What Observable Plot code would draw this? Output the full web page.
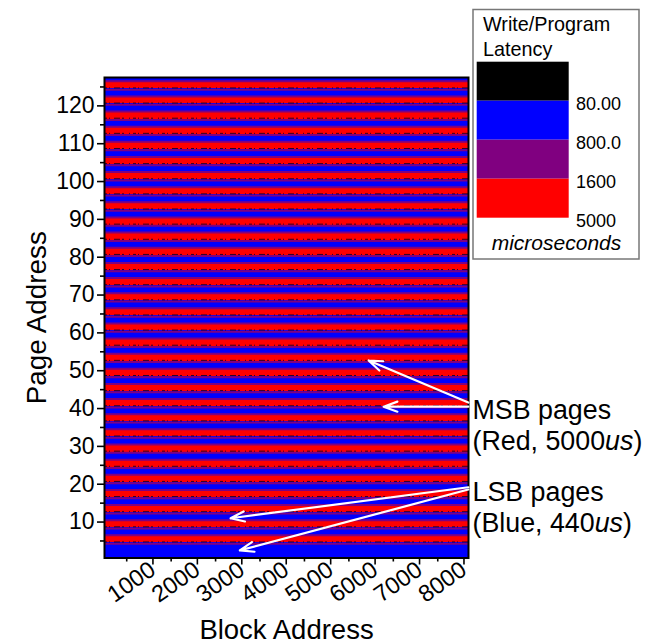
<!DOCTYPE html>
<html><head><meta charset="utf-8">
<script src="https://cdn.jsdelivr.net/npm/d3@7"></script>
<script src="https://cdn.jsdelivr.net/npm/@observablehq/plot@0.6"></script>
<style>
body{margin:0;background:#fff;}
#wrap{position:relative;width:655px;height:644px;overflow:hidden;}
#wrap svg{position:absolute;left:0;top:0;}
</style></head><body><div id="wrap"></div>
<script>
// Write/program latency (microseconds) per page address 1..127 (read from the stripes)
const pageLatency = [
  440,440,440,440,
  5000,5000,440,440, 5000,5000,440,440, 5000,5000,440,440, 5000,5000,440,440,
  5000,5000,440,440, 5000,5000,440,440, 5000,5000,440,440, 5000,5000,440,440,
  5000,5000,440,440, 5000,5000,440,440, 5000,5000,440,440, 5000,5000,440,440,
  5000,5000,440,440, 5000,5000,440,440, 5000,5000,440,440, 5000,5000,440,440,
  5000,5000,440,440, 5000,5000,440,440, 5000,5000,440,440, 5000,5000,440,440,
  5000,5000,440,440, 5000,5000,440,440, 5000,5000,440,440, 5000,5000,440,440,
  5000,5000,440,440, 5000,5000,440,440, 5000,5000,440,440, 5000,5000,440,440,
  5000,5000,440,440, 5000,5000,440,440,
  5000,5000,440
];
const blockCount = 8192;
const latencyThresholds = [80, 800, 1600];
const latencyColors = ["#000000", "#0000ff", "#800080", "#ff0000"];
const legendLabels = ["80.00", "800.0", "1600", "5000"];
const legendTitle = ["Write/Program", "Latency"];
const legendUnit = "microseconds";
const xMajorTicks = [1000, 2000, 3000, 4000, 5000, 6000, 7000, 8000];
const xMinorTicks = [500, 1500, 2500, 3500, 4500, 5500, 6500, 7500];
const yMajorTicks = [10, 20, 30, 40, 50, 60, 70, 80, 90, 100, 110, 120];
const yMinorTicks = [5, 15, 25, 35, 45, 55, 65, 75, 85, 95, 105, 115, 125];
const arrowData = [
  {x1: 8188, y1: 41.6, x2: 5944, y2: 52.7},
  {x1: 8188, y1: 40.5, x2: 6282, y2: 40.5},
  {x1: 8188, y1: 19.2, x2: 2838, y2: 11.0},
  {x1: 8188, y1: 18.6, x2: 3047, y2: 2.5}
];
const notes = [
  {label: "MSB pages", page: 39.5},
  {label: "(Red, 5000us)", page: 31.3},
  {label: "LSB pages", page: 17.8},
  {label: "(Blue, 440us)", page: 9.6}
];

const rows = pageLatency.map((v, i) => ({page: i + 1, latency: v}));
const edges = [];
for (let i = 1; i < rows.length; i++) {
  if (rows[i].latency !== rows[i - 1].latency) {
    edges.push({page: rows[i].page - 0.5, lowerMsbEdge: rows[i].latency >= 1600});
  }
}
const lowerEdges = edges.filter(d => d.lowerMsbEdge);
const upperEdges = edges.filter(d => !d.lowerMsbEdge);
const font = "Liberation Sans, Arial, sans-serif";

const chart = Plot.plot({
  width: 655, height: 644,
  marginLeft: 104, marginRight: 187, marginTop: 77, marginBottom: 86.5,
  style: {fontFamily: font, background: "white", color: "black"},
  x: {domain: [0, blockCount]},
  y: {domain: [0.5, 127.5]},
  color: {type: "threshold", domain: latencyThresholds, range: latencyColors},
  marks: [
    Plot.rect(rows, {x1: 0, x2: blockCount, y1: d => d.page - 0.5, y2: d => d.page + 0.5, fill: "latency", shapeRendering: "crispEdges"}),
    Plot.ruleY(upperEdges, {y: "page", x1: 0, x2: blockCount, stroke: "#800080", strokeWidth: 2}),
    Plot.ruleY(lowerEdges, {y: "page", x1: 0, x2: blockCount, dy: 0.8, stroke: "#800080", strokeWidth: 2}),
    Plot.ruleY(lowerEdges, {y: "page", x1: 0, x2: blockCount, dy: -0.9, stroke: "#2a0028", strokeWidth: 1, strokeDasharray: "3 2 1 4 6 2 2 5 1 3"}),
    Plot.frame({stroke: "black", strokeWidth: 2}),
    Plot.axisX({ticks: xMajorTicks, tickFormat: d => String(d), tickSize: 7, tickPadding: 2, tickRotate: -35, fontSize: 23.5, strokeWidth: 1.6, label: null, dx: 4}),
    Plot.axisX({ticks: xMinorTicks, tickSize: 4, strokeWidth: 1.6, text: null, label: null}),
    Plot.axisY({ticks: yMajorTicks, tickSize: 7, tickPadding: 3, fontSize: 23, strokeWidth: 1.6, label: null}),
    Plot.axisY({ticks: yMinorTicks, tickSize: 4, strokeWidth: 1.6, text: null, label: null}),
    Plot.arrow(arrowData, {x1: "x1", y1: "y1", x2: "x2", y2: "y2", stroke: "white", strokeWidth: 2.2, headLength: 10, headAngle: 40}),
    Plot.text(notes, {x: blockCount, y: "page", text: "label", textAnchor: "start", dx: 4, fontSize: 26.8, fill: "black"}),
    Plot.text(["Block Address"], {frameAnchor: "bottom", text: d => d, dy: 81, fontSize: 27.5, fill: "black"}),
    Plot.text(["Page Address"], {frameAnchor: "left", textAnchor: "middle", text: d => d, dx: -67, rotate: -90, fontSize: 27.8, fill: "black"})
  ]
});
document.getElementById("wrap").appendChild(chart);

// italic "us" in the annotations
d3.select(chart).selectAll("text").each(function() {
  const t = this.textContent;
  const m = t.match(/^(.*\d)us\)$/);
  if (m && this.children.length === 0) {
    const el = d3.select(this);
    el.text(null);
    el.append("tspan").text(m[1]);
    el.append("tspan").attr("font-style", "italic").text("us");
    el.append("tspan").text(")");
  }
});

// Legend
const svg = d3.select("#wrap").append("svg").attr("width", 655).attr("height", 644).style("pointer-events", "none");
const lg = svg.append("g").attr("font-family", font).attr("fill", "black");
lg.append("rect").attr("x", 473).attr("y", 9.5).attr("width", 166).attr("height", 249.5)
  .attr("fill", "white").attr("stroke", "#777").attr("stroke-width", 1.5);
legendTitle.forEach((t, i) => {
  lg.append("text").attr("x", 483).attr("y", 24 + i * 25.3).attr("dy", "0.35em").attr("font-size", 19.8).text(t);
});
const swY = 61.7, swH = 39;
latencyColors.forEach((c, i) => {
  lg.append("rect").attr("x", 476.7).attr("y", swY + i * swH).attr("width", 92).attr("height", swH).attr("fill", c);
});
legendLabels.forEach((t, i) => {
  lg.append("text").attr("x", 576).attr("y", swY + (i + 1) * swH + 2.5).attr("dy", "0.35em").attr("font-size", 18).text(t);
});
lg.append("text").attr("x", 491.7).attr("y", 243).attr("dy", "0.35em").attr("font-size", 21).attr("font-style", "italic").text(legendUnit);
</script></body></html>
